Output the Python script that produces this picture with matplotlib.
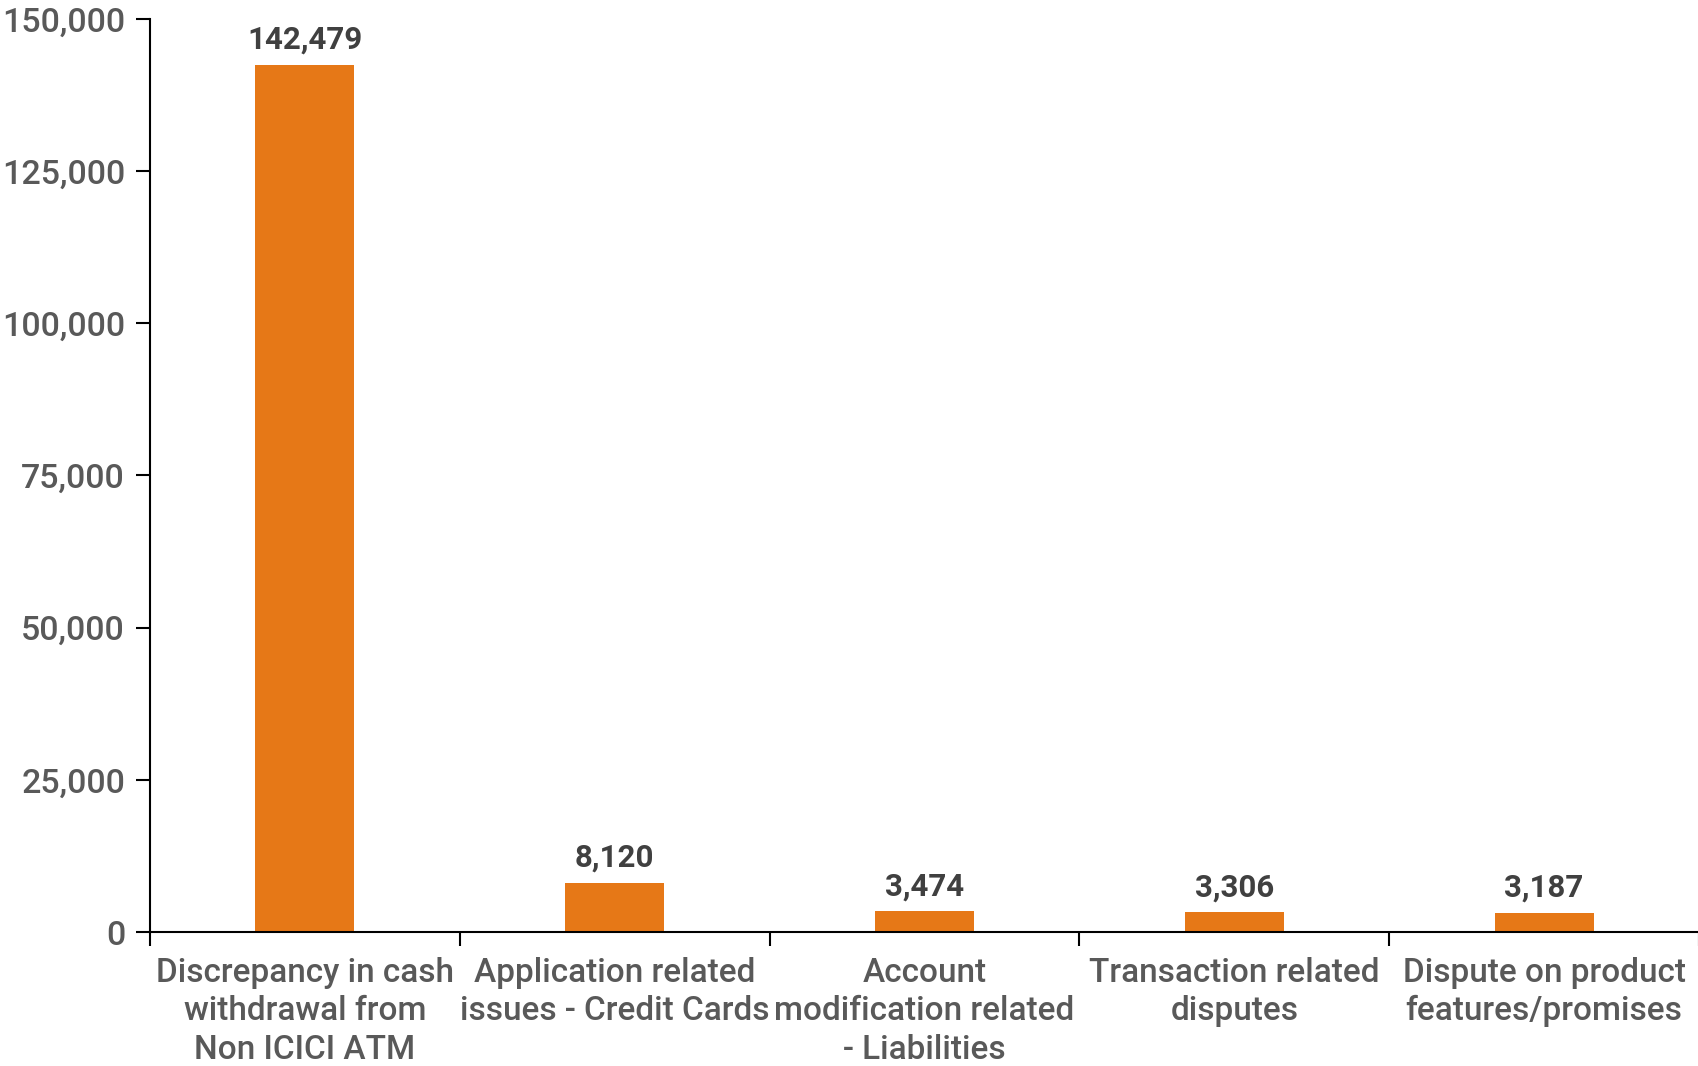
import numpy as np
import matplotlib.pyplot as plt

plt.rcParams['font.family'] = ['Roboto', 'DejaVu Sans']

categories = ["Discrepancy in cash\nwithdrawal from\nNon ICICI ATM",
              "Application related\nissues - Credit Cards",
              "Account\nmodification related\n- Liabilities",
              "Transaction related\ndisputes",
              "Dispute on product\nfeatures/promises"]
counts = [142479, 8120, 3474, 3306, 3187]
yticks = [0, 25000, 50000, 75000, 100000, 125000, 150000]

fig = plt.figure(figsize=(16.99, 10.66), dpi=100)
ax = fig.add_axes([0.0883, 0.1257, 0.9117, 0.8565])

x = np.arange(len(categories))
bars = ax.bar(x, counts, width=0.32, color='#E67817')

# value labels above bars
for xi, v in zip(x, counts):
    ax.text(xi, v + 1600, f"{v:,}", ha='center', va='bottom',
            fontsize=22.5, color='#404040', fontweight='semibold')

ax.set_xlim(-0.5, len(categories) - 0.5)
ax.set_ylim(0, 150000)
ax.set_yticks(yticks)
ax.set_yticklabels([f"{t:,}" for t in yticks], fontweight='medium')
ax.set_xticks(x)
ax.set_xticklabels(categories, linespacing=1.25, fontweight='medium')
ax.set_xticks(np.arange(len(categories) + 1) - 0.5, minor=True)

ax.tick_params(axis='y', labelsize=24.5, labelcolor='#595959', length=10, width=1.5, pad=8)
ax.tick_params(axis='x', which='major', length=0, labelsize=24, labelcolor='#595959', pad=18)
ax.tick_params(axis='x', which='minor', length=10, width=1.5)

for s in ['top', 'right']:
    ax.spines[s].set_visible(False)
ax.spines['left'].set_linewidth(1.5)
ax.spines['bottom'].set_linewidth(1.5)

fig.savefig('out.png', dpi=100)
